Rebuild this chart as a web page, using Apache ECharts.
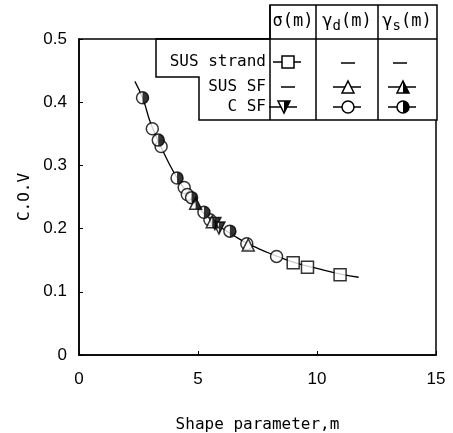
<!DOCTYPE html>
<html>
<head>
<meta charset="utf-8">
<script src="https://cdn.jsdelivr.net/npm/echarts@6/dist/echarts.min.js"></script>
<style>
html, body { margin: 0; padding: 0; background: #fff; }
#main { width: 453px; height: 433px; }
</style>
</head>
<body>
<div id="main"></div>
<script>
// fitted curve
var curveM   = [2.35, 2.7, 3.0, 3.5, 4.0, 4.5, 5.0, 5.5, 6.0, 6.5, 7.0, 7.5, 8.0, 9.0, 10.0, 11.0, 11.75];
var curveCov = [0.433, 0.404, 0.368, 0.325, 0.288, 0.259, 0.234, 0.215, 0.201, 0.189, 0.178, 0.169, 0.161, 0.147, 0.137, 0.128, 0.123];

// SUS strand, sigma(m)
var strandSigmaM   = [9.0, 9.6, 10.97];
var strandSigmaCov = [0.146, 0.139, 0.127];
// SUS SF, gamma_d(m) / gamma_s(m)
var susGdM   = [7.11];
var susGdCov = [0.174];
var susGsM   = [4.9, 5.6];
var susGsCov = [0.240, 0.211];
// C SF, sigma(m) / gamma_d(m) / gamma_s(m)
var cSigmaM   = [5.71, 5.88];
var cSigmaCov = [0.208, 0.201];
var cGdM   = [3.08, 3.45, 4.42, 4.55, 5.5, 7.05, 8.3];
var cGdCov = [0.358, 0.330, 0.265, 0.254, 0.214, 0.176, 0.156];
var cGsM   = [2.67, 3.33, 4.12, 4.73, 5.25, 6.34];
var cGsCov = [0.407, 0.340, 0.280, 0.249, 0.226, 0.196];

var xTicks = [0, 5, 10, 15];
var yTicks = [0, 0.1, 0.2, 0.3, 0.4, 0.5];

var rowLabels = ['SUS strand', 'SUS SF', 'C SF'];

function pairs(xs, ys) {
    return xs.map(function (x, i) { return [x, ys[i]]; });
}

var S = 12;
var HALF_CIRCLE = 'path://M0,0 A10,10 0 0,1 0,20 Z';
var HALF_TRI = 'path://M0,0 L10,20 L0,20 Z';
var HALF_INV_TRI = 'path://M0,0 L10,0 L0,20 Z';
var open = { color: '#fff', borderColor: '#000', borderWidth: 1.5 };
var solid = { color: '#000' };

function scatter(data, symbol, style, extra) {
    var s = {
        type: 'scatter',
        data: data,
        symbol: symbol,
        symbolSize: S,
        itemStyle: style,
        silent: true,
        z: 3
    };
    for (var k in extra) s[k] = extra[k];
    return s;
}

var mono = "'DejaVu Sans Mono', 'Liberation Mono', monospace";
var ink = '#000';

var myChart = echarts.init(document.getElementById('main'));

// legend table (drawn as graphics)
var T = { top: 5, head: 39, bot: 120, c0: 270, c1: 316, c2: 378, c3: 437, lx: 156, ly: 77, sx: 199 };
var line = function (pts) {
    return { type: 'polyline', shape: { points: pts }, style: { stroke: ink, lineWidth: 1.5, fill: null }, z: 10 };
};
var rowY = [62, 87, 107];
var colX = [288, 348, 403];

function legSym(kind, cx, cy) {
    var out = [line([[cx - 15, cy], [cx + 13, cy]])];
    var r = 6;
    if (kind === 'rect') {
        out.push({ type: 'rect', shape: { x: cx - r, y: cy - r, width: 2 * r, height: 2 * r }, style: { fill: '#fff', stroke: ink, lineWidth: 1.5 }, z: 11 });
    } else if (kind === 'circle' || kind === 'halfcircle') {
        out.push({ type: 'circle', shape: { cx: cx, cy: cy, r: r }, style: { fill: '#fff', stroke: ink, lineWidth: 1.5 }, z: 11 });
        if (kind === 'halfcircle') out.push({ type: 'sector', shape: { cx: cx, cy: cy, r: r, startAngle: -Math.PI / 2, endAngle: Math.PI / 2 }, style: { fill: ink }, z: 12 });
    } else if (kind === 'tri' || kind === 'halftri') {
        out.push({ type: 'polygon', shape: { points: [[cx, cy - r], [cx + r, cy + r], [cx - r, cy + r]] }, style: { fill: '#fff', stroke: ink, lineWidth: 1.5 }, z: 11 });
        if (kind === 'halftri') out.push({ type: 'polygon', shape: { points: [[cx, cy - r], [cx + r, cy + r], [cx, cy + r]] }, style: { fill: ink }, z: 12 });
    } else if (kind === 'invtri') {
        out.push({ type: 'polygon', shape: { points: [[cx - r, cy - r], [cx + r, cy - r], [cx, cy + r]] }, style: { fill: '#fff', stroke: ink, lineWidth: 1.5 }, z: 11 });
        out.push({ type: 'polygon', shape: { points: [[cx, cy - r], [cx + r, cy - r], [cx, cy + r]] }, style: { fill: ink }, z: 12 });
    }
    return out;
}
function dash(cx, cy) {
    return line([[cx - 7, cy], [cx + 7, cy]]);
}

var graphics = [
    { type: 'polygon', shape: { points: [[T.c0, T.top], [T.c3, T.top], [T.c3, T.bot], [T.sx, T.bot], [T.sx, T.ly], [T.lx, T.ly], [T.lx, T.head], [T.c0, T.head]] },
      style: { fill: '#fff', stroke: ink, lineWidth: 1.5 }, z: 9 },
    line([[T.c0, T.top], [T.c0, T.bot]]),
    line([[T.c1, T.top], [T.c1, T.bot]]),
    line([[T.c2, T.top], [T.c2, T.bot]]),
    line([[T.lx, T.head], [T.c3, T.head]]),
    { type: 'text', x: 293, y: 22, style: { text: 'σ(m)', font: '17px ' + mono, fill: ink, align: 'center', verticalAlign: 'middle' }, z: 11 },
    { type: 'text', x: 347, y: 22, style: { text: '{a|γ}{s|d}{a|(m)}', rich: { a: { font: '17px ' + mono, fill: ink }, s: { font: '14px ' + mono, fill: ink, padding: [8, 0, 0, 0] } }, align: 'center', verticalAlign: 'middle' }, z: 11 },
    { type: 'text', x: 407, y: 22, style: { text: '{a|γ}{s|s}{a|(m)}', rich: { a: { font: '17px ' + mono, fill: ink }, s: { font: '14px ' + mono, fill: ink, padding: [8, 0, 0, 0] } }, align: 'center', verticalAlign: 'middle' }, z: 11 }
];
rowLabels.forEach(function (t, i) {
    graphics.push({ type: 'text', x: 266, y: rowY[i], style: { text: t, font: '16px ' + mono, fill: ink, align: 'right', verticalAlign: 'middle' }, z: 11 });
});
graphics = graphics.concat(
    legSym('rect', colX[0], rowY[0]), [dash(colX[1], rowY[0] + 1), dash(colX[2] - 3, rowY[0] + 1)],
    [dash(colX[0], rowY[1])], legSym('tri', colX[1], rowY[1]), legSym('halftri', colX[2], rowY[1]),
    legSym('invtri', colX[0] - 4, rowY[2]), legSym('circle', colX[1], rowY[2]), legSym('halfcircle', colX[2], rowY[2])
);

var option = {
    animation: false,
    backgroundColor: '#fff',
    grid: { left: 79, right: 17, top: 39, bottom: 78, show: true, borderColor: ink, borderWidth: 1.5, outerBoundsMode: 'none' },
    xAxis: {
        type: 'value', min: xTicks[0], max: xTicks[xTicks.length - 1], interval: 5,
        name: 'Shape parameter,m', nameLocation: 'middle', nameGap: 62,
        nameTextStyle: { fontFamily: 'DejaVu Sans Mono', fontSize: 16, color: ink },
        axisLine: { lineStyle: { color: ink, width: 1.5 } },
        axisTick: { inside: true, length: 4, lineStyle: { color: ink } },
        axisLabel: { margin: 16, fontFamily: 'Liberation Sans', fontSize: 17, color: ink },
        splitLine: { show: false }
    },
    yAxis: {
        type: 'value', min: yTicks[0], max: yTicks[yTicks.length - 1], interval: 0.1,
        name: 'C.O.V', nameLocation: 'middle', nameGap: 46,
        nameTextStyle: { fontFamily: 'DejaVu Sans Mono', fontSize: 16, color: ink },
        axisLine: { lineStyle: { color: ink, width: 1.5 } },
        axisTick: { inside: true, length: 4, lineStyle: { color: ink } },
        axisLabel: { margin: 12, fontFamily: 'Liberation Sans', fontSize: 17, color: ink },
        splitLine: { show: false }
    },
    graphic: graphics,
    series: [
        {
            type: 'line', data: pairs(curveM, curveCov), smooth: true, showSymbol: false,
            lineStyle: { color: ink, width: 1.3 }, silent: true, z: 2
        },
        scatter(pairs(strandSigmaM, strandSigmaCov), 'rect', open),
        scatter(pairs(cGdM, cGdCov), 'circle', open),
        scatter(pairs(cGsM, cGsCov), 'circle', open),
        scatter(pairs(cGsM, cGsCov), HALF_CIRCLE, solid, { symbolSize: [S / 2, S], symbolOffset: [S / 4, 0], z: 4 }),
        scatter(pairs(cSigmaM, cSigmaCov), 'triangle', open, { symbolRotate: 180 }),
        scatter(pairs(cSigmaM, cSigmaCov), HALF_INV_TRI, solid, { symbolSize: [S / 2, S], symbolOffset: [S / 4, 0], z: 4 }),
        scatter(pairs(susGdM, susGdCov), 'triangle', open),
        scatter(pairs(susGsM, susGsCov), 'triangle', open),
        scatter(pairs(susGsM, susGsCov), HALF_TRI, solid, { symbolSize: [S / 2, S], symbolOffset: [S / 4, 0], z: 4 })
    ]
};

myChart.setOption(option);
</script>
</body>
</html>
